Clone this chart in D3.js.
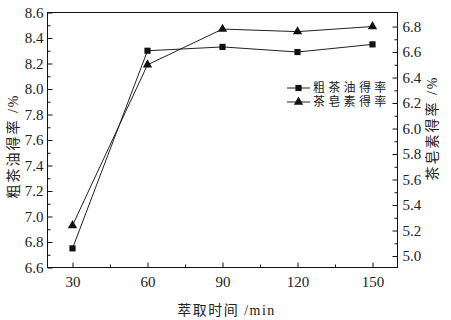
<!DOCTYPE html>
<html>
<head>
<meta charset="utf-8">
<script src="https://cdn.jsdelivr.net/npm/d3@7"></script>
<style>
  body { margin: 0; background: #fff; }
  text { font-family: "Liberation Serif", "Noto Sans CJK SC", serif; fill: #222; }
</style>
</head>
<body>
<div id="chart"></div>
<script>
const width = 451;
const height = 320;
const margin = {top: 12.5, right: 53.5, bottom: 52.5, left: 47.5};

// data
const times = [30, 60, 90, 120, 150];
const oilYield = [6.75, 8.30, 8.33, 8.29, 8.35];      // left axis, squares
const saponinYield = [5.24, 6.50, 6.78, 6.76, 6.80];  // right axis, triangles
const seriesNames = ['粗茶油得率', '茶皂素得率'];

const xTicks = [30, 60, 90, 120, 150];
const xMinor = [45, 75, 105, 135];
const leftTicks = [6.6, 6.8, 7.0, 7.2, 7.4, 7.6, 7.8, 8.0, 8.2, 8.4, 8.6];
const leftMinor = [6.7, 6.9, 7.1, 7.3, 7.5, 7.7, 7.9, 8.1, 8.3, 8.5];
const rightTicks = [5.0, 5.2, 5.4, 5.6, 5.8, 6.0, 6.2, 6.4, 6.6, 6.8];
const rightMinor = [5.1, 5.3, 5.5, 5.7, 5.9, 6.1, 6.3, 6.5, 6.7];

const svg = d3.select('#chart')
  .append('svg')
  .attr('width', width)
  .attr('height', height);

const x = d3.scaleLinear().domain([20, 160]).range([margin.left, width - margin.right]);
const yL = d3.scaleLinear().domain([6.6, 8.6]).range([height - margin.bottom, margin.top]);
const yR = d3.scaleLinear().domain([4.91, 6.91]).range([height - margin.bottom, margin.top]);

const fmt = d3.format('.1f');

// axes, ticks pointing inwards
svg.append('g').attr('transform', `translate(0,${height - margin.bottom})`)
  .call(d3.axisBottom(x).tickValues(xTicks).tickSize(-5).tickPadding(9));
svg.append('g').attr('transform', `translate(0,${height - margin.bottom})`)
  .call(d3.axisBottom(x).tickValues(xMinor).tickSize(-3).tickFormat(''));

svg.append('g').attr('transform', `translate(${margin.left},0)`)
  .call(d3.axisLeft(yL).tickValues(leftTicks).tickSize(-5).tickPadding(4).tickFormat(fmt));
svg.append('g').attr('transform', `translate(${margin.left},0)`)
  .call(d3.axisLeft(yL).tickValues(leftMinor).tickSize(-3).tickFormat(''));

svg.append('g').attr('transform', `translate(${width - margin.right},0)`)
  .call(d3.axisRight(yR).tickValues(rightTicks).tickSize(-5).tickPadding(5).tickFormat(fmt));
svg.append('g').attr('transform', `translate(${width - margin.right},0)`)
  .call(d3.axisRight(yR).tickValues(rightMinor).tickSize(-3).tickFormat(''));

svg.selectAll('.domain').remove();
svg.selectAll('.tick line').attr('stroke', '#111');
svg.selectAll('.tick text').style('font-size', '15px').attr('fill', '#222');

// frame
svg.append('rect')
  .attr('x', margin.left)
  .attr('y', margin.top)
  .attr('width', width - margin.left - margin.right)
  .attr('height', height - margin.top - margin.bottom)
  .attr('fill', 'none')
  .attr('stroke', '#111')
  .attr('stroke-width', 1);

// series
const series = [
  {values: oilYield, y: yL, symbol: d3.symbolSquare, size: 38},
  {values: saponinYield, y: yR, symbol: d3.symbolTriangle, size: 38}
];

series.forEach(s => {
  const line = d3.line().x((d, i) => x(times[i])).y(d => s.y(d));
  svg.append('path')
    .datum(s.values)
    .attr('d', line)
    .attr('fill', 'none')
    .attr('stroke', '#222')
    .attr('stroke-width', 1);
  svg.selectAll(null)
    .data(s.values)
    .join('path')
    .attr('transform', (d, i) => `translate(${x(times[i])},${s.y(d)})`)
    .attr('d', d3.symbol().type(s.symbol).size(s.size))
    .attr('fill', '#111');
});

// legend
const legend = svg.append('g').attr('transform', 'translate(287,88)');
series.forEach((s, i) => {
  const g = legend.append('g').attr('transform', `translate(0,${i * 14})`);
  g.append('line').attr('x1', 0).attr('x2', 23).attr('stroke', '#222');
  g.append('path')
    .attr('transform', 'translate(11.5,0)')
    .attr('d', d3.symbol().type(s.symbol).size(s.size))
    .attr('fill', '#111');
  g.append('text')
    .attr('x', 26)
    .attr('dy', '0.36em')
    .style('font-size', '12px')
    .style('letter-spacing', '3.3px')
    .text(seriesNames[i]);
});

// axis titles
svg.append('text')
  .attr('x', (margin.left + width - margin.right) / 2 + 4)
  .attr('y', 310)
  .attr('text-anchor', 'middle')
  .attr('dy', '0.35em')
  .style('font-size', '14px')
  .style('letter-spacing', '1.5px')
  .text('萃取时间 /min');

svg.append('text')
  .attr('transform', 'translate(13,146) rotate(-90)')
  .attr('text-anchor', 'middle')
  .attr('dy', '0.35em')
  .style('font-size', '14px')
  .style('letter-spacing', '2px')
  .text('粗茶油得率 /%');

svg.append('text')
  .attr('transform', 'translate(432,128) rotate(-90)')
  .attr('text-anchor', 'middle')
  .attr('dy', '0.35em')
  .style('font-size', '14px')
  .style('letter-spacing', '2px')
  .text('茶皂素得率 /%');
</script>
</body>
</html>
